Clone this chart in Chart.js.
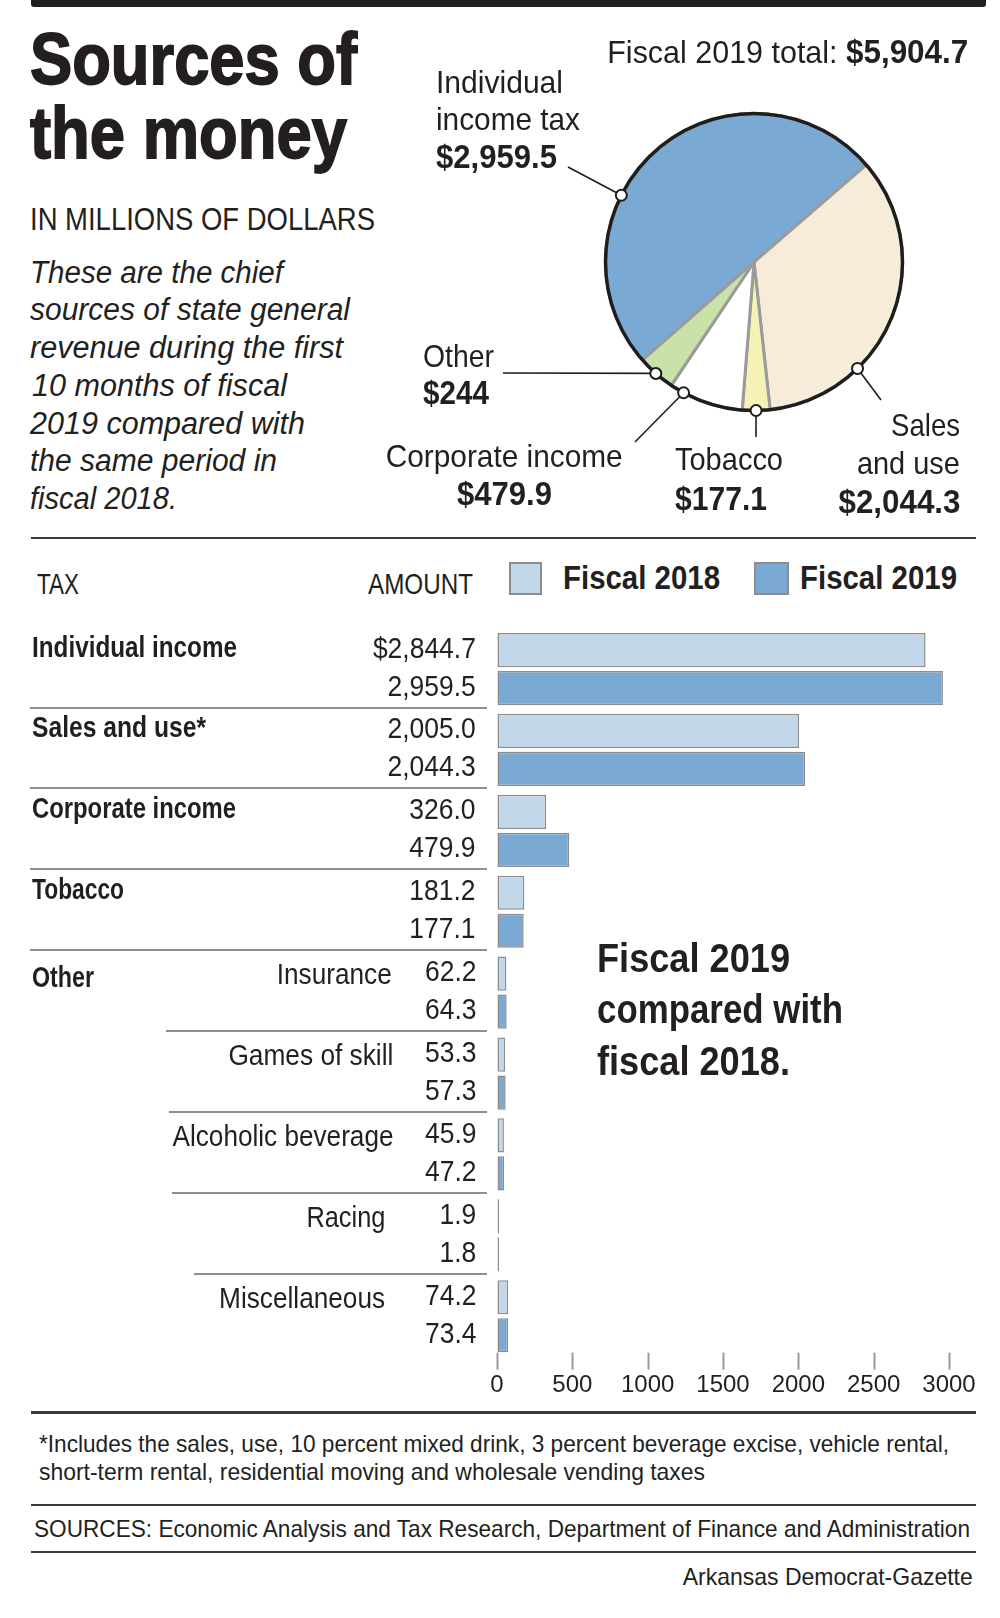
<!DOCTYPE html>
<html>
<head>
<meta charset="utf-8">
<script src="https://cdn.jsdelivr.net/npm/chart.js@4.4.1/dist/chart.umd.min.js"></script>
<style>
  body { margin: 0; background: #fff; }
  #page { position: relative; width: 1000px; height: 1618px; overflow: hidden; background: #fff; color: #231f20; }
  .t { position: absolute; white-space: nowrap; }
  .rule { position: absolute; background: #3b3b3b; }
  .box { position: absolute; box-sizing: border-box; border: 2px solid #8c8c8c; }
</style>
</head>
<body>
<div id="page">
  <div class="rule" style="left:31px;top:0;width:955px;height:7px;background:#231f20;border-radius:0 0 3px 3px"></div>
  <div class="rule" style="left:31px;top:537px;width:945px;height:2px"></div>
  <div class="rule" style="left:31px;top:1411px;width:945px;height:3px"></div>
  <div class="rule" style="left:31px;top:1504px;width:945px;height:2px"></div>
  <div class="rule" style="left:31px;top:1551px;width:945px;height:2px"></div>
  <canvas id="pie" width="620" height="540" style="position:absolute;left:380px;top:0"></canvas>
  <canvas id="bars" width="1000" height="830" style="position:absolute;left:0;top:600px"></canvas>
</div>
<script>
// ── Data (millions of dollars) ───────────────────────────────────────────────
const pieLabels = ["Individual\nincome tax", "Sales\nand use", "Tobacco", "Corporate income", "Other"];
const pieValues = [2959.5, 2044.3, 177.1, 479.9, 244];
const pieTotal = 5904.7;

const groups     = ["Individual income", "Sales and use*", "Corporate income", "Tobacco", "Other", "Other", "Other", "Other", "Other"];
const categories = ["Individual income", "Sales and use*", "Corporate income", "Tobacco", "Insurance", "Games of skill", "Alcoholic beverage", "Racing", "Miscellaneous"];
const seriesNames = ["Fiscal 2018", "Fiscal 2019"];
const fiscal2018 = [2844.7, 2005.0, 326.0, 181.2, 62.2, 53.3, 45.9, 1.9, 74.2];
const fiscal2019 = [2959.5, 2044.3, 479.9, 177.1, 64.3, 57.3, 47.2, 1.8, 73.4];
const xTicks = [0, 500, 1000, 1500, 2000, 2500, 3000];

const introLines = [
  "These are the chief", "sources of state general", "revenue during the first",
  "10 months of fiscal", "2019 compared with", "the same period in", "fiscal 2018.",
];
const noteLines = [
  "*Includes the sales, use, 10 percent mixed drink, 3 percent beverage excise, vehicle rental,",
  "short-term rental, residential moving and wholesale vending taxes",
];

// ── Styles ───────────────────────────────────────────────────────────────────
const FONT = "'Liberation Sans Narrow', 'Liberation Sans', Arial, sans-serif";
const PIE_COLOURS = ["#7aaad4", "#f7ebd9", "#f6f2b6", "#ffffff", "#c9e2a9"];
const BAR_COLOURS = ["#c3d7eb", "#7aaad4"];
const BAR_EDGE = "#8c8c8c";
const PIE_LEFT = 380, PIE_TOP = 0, BAR_TOP = 600;

Chart.defaults.font.family = FONT;
Chart.defaults.color = "#231f20";

const page = document.getElementById("page");

/** Place a text line by its baseline; optional target width w squeezes/stretches it. */
function txt(html, x, base, o) {
  const el = document.createElement("div");
  el.className = "t";
  el.innerHTML = html;
  el.style.font = `${o.italic ? "italic " : ""}${o.bold ? 700 : 400} ${o.size}px ${FONT}`;
  el.style.lineHeight = o.size + "px";
  el.style.top = (base - o.size * 0.846) + "px";
  if (o.heavy) el.style.webkitTextStroke = o.heavy + "px #231f20";
  page.appendChild(el);
  const w = el.getBoundingClientRect().width;
  const sx = o.w ? o.w / w : (o.sx || 1);
  const align = o.align || "left";
  el.style.left = (align === "left" ? x : align === "right" ? x - w : x - w / 2) + "px";
  el.style.transformOrigin = align === "left" ? "left center" : align === "right" ? "right center" : "center center";
  el.style.transform = `scaleX(${sx})`;
  return el;
}

function fitScale(str, o, target) {
  const el = txt(str, 0, 0, o);
  const s = target / el.getBoundingClientRect().width;
  el.remove();
  return s;
}

const fmt1 = (v) => v.toLocaleString("en-US", { minimumFractionDigits: 1, maximumFractionDigits: 1 });
const fmtPie = (v) => "$" + (Number.isInteger(v) ? v.toLocaleString("en-US") : fmt1(v));

// ── Header text ──────────────────────────────────────────────────────────────
txt("Sources of", 30, 84, { size: 72, bold: true, heavy: 1.8, w: 327 });
txt("the money", 30, 158, { size: 72, bold: true, heavy: 1.8, w: 317 });
txt("IN MILLIONS OF DOLLARS", 30, 230, { size: 32, w: 345 });
const introW = [253, 320, 313, 255, 275, 247, 147];
introLines.forEach((line, i) => {
  txt(line, i === 3 ? 32 : 30, 283 + i * 37.7, { size: 31, italic: true, w: introW[i] });
});

txt(`Fiscal 2019 total: <b style="font-size:33px">$${fmt1(pieTotal)}</b>`, 968, 63, { size: 32, align: "right", w: 361 });

// ── Pie ──────────────────────────────────────────────────────────────────────
// clock angle of each leader dot, and where its line ends (page px)
const PIE_LEADERS = [
  { deg: 296.7, to: [568, 167] },
  { deg: 135.8, to: [881, 400] },
  { deg: 179.2, to: [756, 437] },
  { deg: 208.3, to: [635, 442] },
  { deg: 221.4, to: [503, 373] },
];
const PIE_TEXT = [
  { x: 436, base: [93, 130, 168], align: "left",   w: [127, 144, 121] },
  { x: 960, base: [436, 474, 513], align: "right", w: [69, 103, 122] },
  { x: 675, base: [470, 510], align: "left",       w: [108, 92] },
  { x: 504, base: [467, 505], align: "center",     w: [237, 95] },
  { x: 423, base: [367, 404], align: "left",       w: [71, 66] },
];

const pieRimPlugin = {
  id: "pieRim",
  afterDatasetsDraw(chart) {
    const { ctx } = chart;
    const arc = chart.getDatasetMeta(0).data[0];
    const { x, y, outerRadius: r } = arc;
    ctx.save();
    ctx.strokeStyle = "#1e1e1e";
    ctx.lineWidth = 3.5;
    ctx.beginPath();
    ctx.arc(x, y, r, 0, Math.PI * 2);
    ctx.stroke();
    PIE_LEADERS.forEach((l) => {
      const a = (l.deg - 90) * Math.PI / 180;
      const px = x + r * Math.cos(a), py = y + r * Math.sin(a);
      ctx.lineWidth = 1.6;
      ctx.beginPath();
      ctx.moveTo(px, py);
      ctx.lineTo(l.to[0] - PIE_LEFT, l.to[1] - PIE_TOP);
      ctx.stroke();
      ctx.beginPath();
      ctx.arc(px, py, 5.5, 0, Math.PI * 2);
      ctx.fillStyle = "#fff";
      ctx.fill();
      ctx.lineWidth = 2;
      ctx.stroke();
    });
    ctx.restore();
  },
};

new Chart(document.getElementById("pie"), {
  type: "pie",
  data: {
    labels: pieLabels,
    datasets: [{ data: pieValues, backgroundColor: PIE_COLOURS, borderColor: "#9b9b9b", borderWidth: 3 }],
  },
  options: {
    responsive: false,
    animation: false,
    events: [],
    rotation: 228.7,
    layout: { padding: { left: 224, right: 96, top: 112, bottom: 128 } },
    plugins: { legend: { display: false }, tooltip: { enabled: false } },
  },
  plugins: [pieRimPlugin],
});

pieLabels.forEach((label, i) => {
  const t = PIE_TEXT[i];
  const lines = label.split("\n");
  lines.forEach((line, j) => txt(line, t.x, t.base[j], { size: 32, align: t.align, w: t.w[j] }));
  const k = lines.length;
  txt(fmtPie(pieValues[i]), t.x, t.base[k], { size: 33, bold: true, align: t.align, w: t.w[k] });
});

// ── Bar chart ────────────────────────────────────────────────────────────────
const RULE_START = [30, 30, 30, 30, 166, 169, 172, 194];
const RULE_END = 487;

const rowRulesPlugin = {
  id: "rowRules",
  afterDraw(chart) {
    const { ctx, chartArea } = chart;
    const ys = chart.scales.y, xs = chart.scales.x;
    ctx.save();
    ctx.strokeStyle = "#8e8e8e";
    ctx.lineWidth = 2;
    for (let i = 0; i < categories.length - 1; i++) {
      const y = Math.round((ys.getPixelForValue(i) + ys.getPixelForValue(i + 1)) / 2) - 2;
      ctx.beginPath();
      ctx.moveTo(RULE_START[i], y);
      ctx.lineTo(RULE_END, y);
      ctx.stroke();
    }
    // short tick marks hanging under the bars
    ctx.strokeStyle = "#9a9a9a";
    xs.ticks.forEach((t) => {
      const x = Math.round(xs.getPixelForValue(t.value)) + 0.5;
      ctx.beginPath();
      ctx.moveTo(x, chartArea.bottom - 4);
      ctx.lineTo(x, chartArea.bottom + 13);
      ctx.stroke();
    });
    ctx.restore();
  },
};

const barDataset = (label, data, colour) => ({
  label, data,
  backgroundColor: colour,
  borderColor: BAR_EDGE,
  borderWidth: 1.5,
  borderSkipped: false,
  minBarLength: 2,
  categoryPercentage: 0.94,
  barPercentage: 0.9,
});

const barChart = new Chart(document.getElementById("bars"), {
  type: "bar",
  data: {
    labels: categories,
    datasets: [
      barDataset(seriesNames[0], fiscal2018, BAR_COLOURS[0]),
      barDataset(seriesNames[1], fiscal2019, BAR_COLOURS[1]),
    ],
  },
  options: {
    indexAxis: "y",
    responsive: false,
    animation: false,
    events: [],
    layout: { padding: { left: 497, right: 51, top: 28.6, bottom: 16.5 } },
    plugins: { legend: { display: false }, tooltip: { enabled: false } },
    scales: {
      x: {
        min: xTicks[0],
        max: xTicks[xTicks.length - 1],
        ticks: {
          stepSize: xTicks[1] - xTicks[0],
          font: { size: 24 },
          padding: 14,
          color: "#231f20",
          callback: (v) => String(v),
        },
        grid: { drawOnChartArea: false, drawTicks: false },
        border: { display: false },
      },
      y: { display: false },
    },
  },
  plugins: [rowRulesPlugin],
});

// ── Table text beside the bars ───────────────────────────────────────────────
txt("TAX", 37, 594, { size: 30, w: 42 });
txt("AMOUNT", 473, 594, { size: 30, align: "right", w: 105 });

const GROUP_W = { "Individual income": 205, "Sales and use*": 174, "Corporate income": 204, "Tobacco": 92, "Other": 62 };
const ITEM_RIGHT = [0, 0, 0, 0, 392, 393, 393, 385, 385];
const ITEM_W = [0, 0, 0, 0, 115, 165, 221, 79, 166];

const m18 = barChart.getDatasetMeta(0).data;
const m19 = barChart.getDatasetMeta(1).data;
const amountSx = fitScale("$2,844.7", { size: 29 }, 103);

categories.forEach((cat, i) => {
  const y18 = m18[i].y + BAR_TOP, y19 = m19[i].y + BAR_TOP;
  const isItem = cat !== groups[i];
  if (i === 0 || groups[i] !== groups[i - 1]) {
    txt(groups[i], 32, y18 + (isItem ? 14 : 7), { size: 29, bold: true, w: GROUP_W[groups[i]] });
  }
  if (isItem) txt(cat, ITEM_RIGHT[i], y18 + 11, { size: 30, align: "right", w: ITEM_W[i] });
  txt((i === 0 ? "$" : "") + fmt1(fiscal2018[i]), 476, y18 + 8, { size: 29, align: "right", sx: amountSx });
  txt(fmt1(fiscal2019[i]), 476, y19 + 8, { size: 29, align: "right", sx: amountSx });
});

// legend
const LEGEND = [{ box: 509, bw: 33, text: 563 }, { box: 754, bw: 35, text: 800 }];
seriesNames.forEach((name, i) => {
  const b = document.createElement("div");
  b.className = "box";
  b.style.cssText += `left:${LEGEND[i].box}px;top:562px;width:${LEGEND[i].bw}px;height:33px;background:${BAR_COLOURS[i]}`;
  page.appendChild(b);
  txt(name, LEGEND[i].text, 589, { size: 33, bold: true, w: 157 });
});

// annotation
txt("Fiscal 2019", 597, 972, { size: 40, bold: true, w: 193 });
txt("compared with", 597, 1023, { size: 40, bold: true, w: 246 });
txt("fiscal 2018.", 597, 1075, { size: 40, bold: true, w: 193 });

// ── Footer ───────────────────────────────────────────────────────────────────
txt(noteLines[0], 39, 1452, { size: 24, w: 910 });
txt(noteLines[1], 39, 1480, { size: 24, w: 666 });
txt("SOURCES: Economic Analysis and Tax Research, Department of Finance and Administration", 34, 1537, { size: 24, w: 936 });
txt("Arkansas Democrat-Gazette", 973, 1585, { size: 24, align: "right", w: 290 });
</script>
</body>
</html>
